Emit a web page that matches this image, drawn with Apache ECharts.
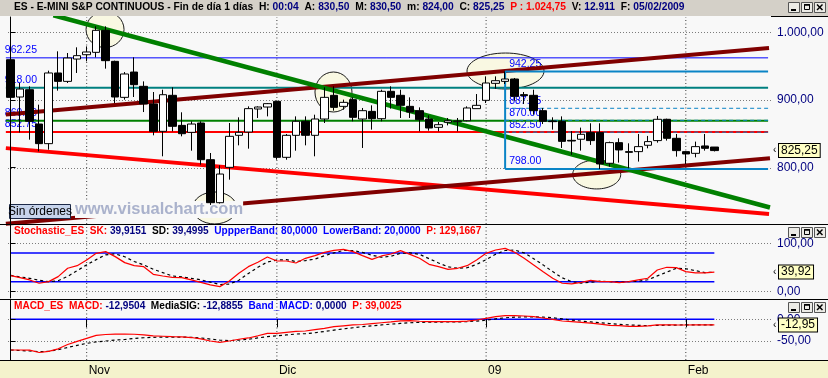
<!DOCTYPE html>
<html><head><meta charset="utf-8">
<script src="https://cdn.jsdelivr.net/npm/echarts@6/dist/echarts.min.js"></script>
<style>html,body{margin:0;padding:0;background:#f8f8f8}#c{width:828px;height:378px}</style>
</head><body><div id="c"></div><script>
// ---------- DATA ----------
const candleOpen = [959.5,904.4,915.2,864.5,835.5,939.9,927.5,960.5,966.9,970.4,
 1002.9,957.1,903.9,941.3,920.2,894.1,853.7,906.9,862.5,852.2,
 866.0,811.8,748.3,800.5,847.8,852.7,886.7,889.6,898.0,815.3,
 847.8,868.5,847.8,871.9,906.9,890.6,900.5,871.9,883.2,872.4,
 912.8,906.9,890.6,884.2,871.9,859.6,867.0,868.0,869.4,887.2,
 899.5,924.6,927.5,931.0,907.9,906.9,884.2,869.0,868.5,840.4,
 842.0,851.8,851.8,806.5,837.0,823.7,823.7,833.1,840.0,871.5,
 843.4,823.7,821.2,832.1,830.5];
const candleClose = [903.9,916.2,868.5,835.5,939.9,927.5,962.0,965.5,970.9,1002.9,
 958.1,904.4,938.4,922.6,894.1,853.7,907.8,861.1,850.2,864.5,
 811.8,748.3,790.6,846.3,852.2,887.2,889.6,894.6,815.3,847.8,
 868.5,847.8,871.9,903.9,889.1,896.5,874.4,884.2,872.4,912.8,
 903.9,892.1,882.2,870.9,858.6,863.5,869.4,869.0,888.2,892.1,
 925.1,928.5,931.0,905.4,906.4,884.2,868.5,868.0,838.9,839.4,
 849.3,840.0,805.5,837.0,826.2,822.7,831.1,838.5,871.5,843.4,
 825.2,820.3,831.1,828.6,825.25];
const candleLow = [855,852,841.4,824.1,826.6,913.8,925.1,939.9,957.1,963.0,
 946.3,895.5,900.5,904.4,882.2,847.8,816.8,853.7,846.3,825.1,
 804.4,745.0,747.0,782.3,833.0,828.1,873.4,875.8,811.8,811.8,
 825.1,833.0,816.8,866.0,884.2,885.7,868.5,829.1,856.2,868.5,
 887.2,873.4,873.4,853.7,854.7,853.7,862.5,853.7,868.5,887.2,
 895.5,916.7,923.6,899.0,894.1,878.3,864.5,856.2,829.1,819.0,
 825.2,833.6,798.0,801.5,807.5,799.1,809.0,828.6,837.0,840.0,
 816.3,805.5,815.3,825.2,824.0];
const candleHigh = [969.4,925.1,920.2,893.1,943.3,971.9,969.4,977.8,979.2,1008.8,
 1008.8,958.1,941.3,963.0,927.5,911.8,915.2,918.7,881.8,868.5,
 868.5,821.7,803.5,866.0,874.4,890.6,890.6,895.5,899.0,849.8,
 875.8,875.8,878.3,918.7,920.2,900.5,903.9,888.2,892.1,915.2,
 920.2,915.2,903.9,889.1,877.3,867.5,873.4,873.4,890.6,908.8,
 934.9,934.9,942.25,932.5,911.8,915.2,888.2,874.4,875.8,854.0,
 859.2,865.6,865.6,838.5,843.4,836.0,849.8,846.9,876.4,872.4,
 849.8,824.2,838.5,849.8,830.5];
const stochSK = [32.6,28.4,23.6,16.7,20.1,30.5,47.9,53.4,65.2,79.1,
 82.6,72.2,59.7,53.4,51.3,35.4,31.9,29.1,28.4,23.6,
 18.7,13.2,9.7,21.5,37.5,51.3,60.4,71.5,63.1,63.1,
 59.0,68.7,74.3,81.2,85.4,87.4,82.6,74.3,66.6,73.6,
 77.7,84.7,77.0,68.7,56.2,51.3,45.8,47.9,53.4,65.2,
 79.1,86.0,89.5,81.2,68.7,54.8,40.9,27.1,16.7,15.3,
 18.7,22.9,20.1,20.1,18.0,20.1,23.6,27.1,44.4,50.0,
 49.3,40.9,38.2,38.2,39.9151];
const stochSD = [33,30,27,23,20,22,31,43,55,66,
 76,78,72,62,55,46,39,32,30,27,
 24,19,14,15,23,37,50,61,65,66,
 62,64,67,74,80,85,85,81,75,71,
 73,79,80,77,68,59,51,48,49,56,
 66,77,85,86,80,68,55,41,28,20,
 17,19,21,20,19,20,21,24,32,40,
 48,47,43,39,39.4995];
const macdLine = [-70.7,-70.7,-71,-76.5,-74,-68,-58,-51,-44,-37,
 -35,-34,-34,-34.5,-36,-38,-39,-40,-40.5,-42,
 -45,-50,-53,-50,-46,-43,-38,-32.5,-32.5,-30,
 -28,-27,-24,-21,-17,-15,-13,-12,-10,-8,
 -6,-3.5,-3,-4.5,-5.4,-5.4,-5.4,-5.4,-4,-1.6,
 2,6.1,8.4,8.4,7.6,6,3,0,-3.9,-5.5,
 -7,-9,-11,-14,-14.6,-16.5,-16.5,-15,-13,-12.5,
 -13,-13.1,-13,-13,-12.9504];
const macdSignal = [-70.7,-72,-73,-74.5,-74,-70,-65,-60,-55.5,-52,
 -50,-48,-46.5,-44,-42.5,-41.5,-41,-41,-41,-41.5,
 -43,-45.5,-48,-49,-48,-46,-43,-40,-38,-36,
 -34,-33,-31,-28,-25,-22,-19.5,-17,-15,-13,
 -11,-9.5,-8,-7,-6.5,-6.5,-6,-6,-5.5,-4,
 -2,1,3.5,5,5.5,5.5,5,3.5,1,-2,
 -4,-6,-8,-10,-11.5,-13,-14,-14.5,-14,-13.5,
 -13.2,-13,-13,-12.9,-12.8855];
const tickIndex = [8, 28, 50, 71];
const tickLabels = ['Nov', 'Dic', '09', 'Feb'];
const priceTicks = [800, 900, 1000];
const stochTicks = [0, 100];
const macdTicks = [-50, 0];
const upperBand = 80, lowerBand = 20, bandMacd = 0;
const stochP = 129.1667, macdP = 39.0025;
const levelValues = [962.25, 918.00, 869.50, 852.75];
const fibValues = [942.25, 887.75, 870.00, 852.50, 798.00];
const fibStart = 52;
const trendGreen = [[4.5, 1025.2], [79.85, 741.2]];
const trendUpper = [[-0.5, 878.4], [79.75, 976.8]];
const trendLower = [[-0.5, 717.3], [79.85, 813.9]];
const trendRed = [[-0.5, 828.9], [79.75, 731.6]];
const highlightCenters = [[9.93, 1004.1], [21.46, 740.5], [33.95, 911.8], [52.04, 942.8], [61.63, 790.0]];
const headerTime = '00:04', headerP = '1.024,75', headerVolume = '12.911', headerDate = '05/02/2009';

// ---------- STYLE / LAYOUT ----------
const FONT = '"Liberation Sans", Arial, sans-serif';
const X_MIN = -0.5, X_MAX = 79.957, LEVEL_END = 79.65;
const GL = 5.85, GR = 57;
const Y_RANGE = [[716.8, 1022.6], [-14, 138.1], [-93.8, 44.5]];
const levelColors = ['#0000ff', '#008080', '#008000', '#ff0000'];
const levelWidths = [1, 2, 2, 2];
const ellipseRadii = [[19, 18], [22, 16], [18.5, 20], [38.5, 18], [24, 14.5]];
const FIB = '#0a84c6';
const DOT = '#3a3a3a';

function fmt(v, d) {
  const s = Math.abs(v).toFixed(d);
  let [a, b] = s.split('.');
  a = a.replace(/\B(?=(\d{3})+(?!\d))/g, '.');
  return (v < 0 ? '-' : '') + a + (b ? ',' + b : '');
}
const last = candleOpen.length - 1;

const chart = echarts.init(document.getElementById('c'), null, {renderer: 'canvas', width: 828, height: 378});

const grids = [
  {left: GL, right: GR, top: 17, height: 207},
  {left: GL, right: GR, top: 225, height: 73},
  {left: GL, right: GR, top: 300, height: 60}
].map(g => Object.assign(g, {containLabel: false, outerBoundsMode: 'none', show: false}));

const xAxes = [0, 1, 2].map(g => ({
  type: 'value', gridIndex: g, min: X_MIN, max: X_MAX, z: 10,
  axisLine: {show: false},
  axisTick: g === 2 ? {show: true, customValues: tickIndex, length: 8, inside: false, lineStyle: {color: '#000', width: 1}} : {show: false},
  axisLabel: g === 2 ? {show: true, customValues: tickIndex, align: 'left', margin: 5, padding: [0, 0, 0, 2], color: '#000', fontSize: 12, fontFamily: FONT,
      formatter: v => tickLabels[tickIndex.indexOf(Math.round(v))] || ''} : {show: false},
  splitLine: {show: false}
}));

function yAx(g, ticks) {
  return {
    type: 'value', gridIndex: g, position: 'right', min: Y_RANGE[g][0], max: Y_RANGE[g][1], z: 10,
    axisLine: {show: true, lineStyle: {color: '#000', width: 1}},
    axisTick: {show: true, customValues: ticks, length: 5, inside: false, lineStyle: {color: '#000'}},
    axisLabel: {show: true, customValues: ticks, margin: 6, color: '#000080', fontSize: 12, fontFamily: FONT, formatter: v => fmt(v, 2)},
    splitLine: {show: false}
  };
}
const yAxes = [yAx(0, priceTicks), yAx(1, stochTicks), yAx(2, macdTicks)];

function line(g, data, color, width, type, z) {
  return {type: 'line', xAxisIndex: g, yAxisIndex: g, data, symbol: 'none', silent: true, animation: false,
    lineStyle: {color, width, type: type || 'solid'}, z: z == null ? 2 : z};
}
const idx = candleOpen.map((_, i) => i);
// vertical dotted grid lines at the month ticks
function vGridLines(g) {
  return tickIndex.map(t => line(g, [[t, Y_RANGE[g][0]], [t, Y_RANGE[g][1]]], DOT, 1, [1, 2.5], 0.5));
}
const series = [
  ...vGridLines(0), ...vGridLines(1), ...vGridLines(2),
  // horizontal levels
  ...levelValues.map((v, k) => line(0, [[X_MIN, v], [LEVEL_END, v]], levelColors[k], levelWidths[k], 'solid', 2)),
  // fibonacci box
  line(0, [[fibStart, fibValues[0]], [LEVEL_END, fibValues[0]]], FIB, 2, 'solid', 2.2),
  line(0, [[fibStart, fibValues[4]], [LEVEL_END, fibValues[4]]], FIB, 2, 'solid', 2.2),
  line(0, [[fibStart, fibValues[0]], [fibStart, fibValues[4]]], FIB, 2, 'solid', 2.2),
  ...fibValues.slice(1, 4).map(v => line(0, [[fibStart, v], [LEVEL_END, v]], FIB, 1, [4, 3], 2.3)),
  // trend lines
  line(0, trendRed, '#ff0000', 4, 'solid', 2.1),
  line(0, trendLower, '#800000', 4, 'solid', 2.1),
  line(0, trendUpper, '#800000', 4, 'solid', 2.1),
  line(0, trendGreen, '#008000', 4.5, 'solid', 2.1),
  {type: 'candlestick', xAxisIndex: 0, yAxisIndex: 0, z: 4, barWidth: 8, animation: false, silent: true,
    data: idx.map(i => [i, candleOpen[i], candleClose[i], candleLow[i], candleHigh[i]]),
    encode: {x: 0, y: [1, 2, 3, 4]},
    itemStyle: {color: '#ffffff', color0: '#000000', borderColor: '#000000', borderColor0: '#000000', borderColorDoji: '#000000', borderWidth: 1}},
  // stochastic
  line(1, [[0, upperBand], [last, upperBand]], '#0000ff', 1.5),
  line(1, [[0, lowerBand], [last, lowerBand]], '#0000ff', 1.5),
  line(1, idx.map(i => [i, stochSD[i]]), '#000000', 1.2, [3, 3], 3),
  line(1, idx.map(i => [i, stochSK[i]]), '#ff0000', 1.2, 'solid', 3),
  // macd
  line(2, [[0, bandMacd], [last, bandMacd]], '#0000ff', 1.5),
  line(2, idx.map(i => [i, macdSignal[i]]), '#000000', 1.2, [3, 3], 3),
  line(2, idx.map(i => [i, macdLine[i]]), '#ff0000', 1.2, 'solid', 3)
];

function mkRich(fs) {
  const base = {fontSize: fs, fontFamily: FONT};
  return {
    k: Object.assign({color: '#000000'}, base),
    v: Object.assign({color: '#000080'}, base),
    r: Object.assign({color: '#ff0000'}, base),
    n: Object.assign({color: '#000080'}, base),
    b: Object.assign({color: '#0000ff'}, base)
  };
}
const headerText = `{k|ES - E-MINI S&P CONTINUOUS - Fin de día 1 días  H: }{v|${headerTime}}{k|  A: }{v|${fmt(candleOpen[last], 2)}}{k|  M: }{v|${fmt(candleHigh[last], 2)}}{k|  m: }{v|${fmt(candleLow[last], 2)}}{k|  C: }{v|${fmt(candleClose[last], 2)}}{r|  P : ${headerP}}{k|  V: }{v|${headerVolume}}{k|  F: }{v|${headerDate}}`;
const stochText = `{r|Stochastic_ES  SK: }{n|${fmt(stochSK[last], 4)}}{k|  SD: }{n|${fmt(stochSD[last], 4)}}{b|  UppperBand: ${fmt(upperBand, 4)}  LowerBand: ${fmt(lowerBand, 4)}}{r|  P: ${fmt(stochP, 4)}}`;
const macdText = `{r|MACD_ES  MACD: }{n|${fmt(macdLine[last], 4)}}{k|  MediaSIG: }{n|${fmt(macdSignal[last], 4)}}{b|  Band_MACD: }{n|${fmt(bandMacd, 4)}}{r|  P: ${fmt(macdP, 4)}}`;

chart.setOption({
  animation: false,
  backgroundColor: '#f8f8f8',
  textStyle: {fontFamily: FONT},
  title: [
    {text: headerText, left: 14, top: 2, padding: 0, z: 20, textStyle: {rich: mkRich(10.25), fontSize: 10.25}},
    {text: stochText, left: 14, top: 226, padding: 0, z: 20, textStyle: {rich: mkRich(10.1), fontSize: 10.1}},
    {text: macdText, left: 14, top: 301, padding: 0, z: 20, textStyle: {rich: mkRich(10.1), fontSize: 10.1}}
  ],
  grid: grids, xAxis: xAxes, yAxis: yAxes, series
});

// ---------- annotations placed through the chart's own scales ----------
const toPx = (g, p) => chart.convertToPixel({gridIndex: g}, p);
const G = [];
// horizontal dotted grid lines at each panel's tick values
[[0, priceTicks], [1, stochTicks], [2, macdTicks]].forEach(([g, ticks]) => {
  ticks.forEach(v => {
    const pa = toPx(g, [X_MIN, v]), pb = toPx(g, [X_MAX, v]);
    const y = Math.round(pa[1]) + 0.5;
    G.push({type: 'line', shape: {x1: Math.round(pa[0]) + 2, y1: y, x2: Math.round(pb[0]), y2: y},
      style: {stroke: '#7c7c7c', lineWidth: 1, lineDash: [1, 2]}, z: 0.5, silent: true});
  });
});
G.push({type: 'rect', shape: {x: 0, y: 0, width: 828, height: 16}, style: {fill: '#d4d0c8'}, z: 15, silent: true});
G.push({type: 'rect', shape: {x: 0, y: 360, width: 828, height: 18}, style: {fill: '#f4f3cc'}, z: 0.1, silent: true});
[224.5, 299.5, 360.5].forEach(y => G.push({type: 'line', shape: {x1: 0, y1: y, x2: 828, y2: y}, style: {stroke: '#000', lineWidth: 1}, z: 16, silent: true}));
G.push({type: 'line', shape: {x1: 771, y1: 16.5, x2: 828, y2: 16.5}, style: {stroke: '#000', lineWidth: 1}, z: 16, silent: true});
// highlight ellipses
highlightCenters.forEach((c, k) => {
  const p = toPx(0, c);
  G.push({type: 'ellipse', shape: {cx: p[0], cy: p[1], rx: ellipseRadii[k][0], ry: ellipseRadii[k][1]},
    style: {fill: '#f9f8e2', stroke: '#1a1a1a', lineWidth: 1}, z: 1, silent: true});
});
// level labels
levelValues.forEach(v => {
  const p = toPx(0, [X_MIN, v]);
  G.push({type: 'text', x: p[0] - 1, y: p[1] - 2, style: {text: v.toFixed(2), fill: '#0000ff', font: '10.5px ' + FONT, verticalAlign: 'bottom', align: 'left'}, z: 1.5, silent: true});
});
fibValues.forEach(v => {
  const p = toPx(0, [fibStart, v]);
  G.push({type: 'text', x: p[0] + 4, y: p[1] - 2, style: {text: v.toFixed(2), fill: '#0000ff', font: '10.5px ' + FONT, verticalAlign: 'bottom', align: 'left'}, z: 1.5, silent: true});
});
// watermark + button
G.push({type: 'text', x: 75, y: 201, style: {text: 'www.visualchart.com', fill: '#aab2cc', font: 'bold 16.5px ' + FONT, backgroundColor: '#f8f8f8', padding: [0, 0, 0, 0]}, z: 3, silent: true});
G.push({type: 'rect', shape: {x: 9.5, y: 204.5, width: 61, height: 14}, style: {fill: '#c7d4ec', stroke: '#1d2a48', lineWidth: 1}, z: 5, silent: true});
G.push({type: 'text', x: 40, y: 212, style: {text: 'Sin órdenes', fill: '#000', font: '12px ' + FONT, align: 'center', verticalAlign: 'middle'}, z: 6, silent: true});
// last value tags
function tag(g, v) {
  const p = toPx(g, [X_MAX, v]);
  G.push({type: 'text', x: 773, y: p[1], style: {text: '‹', fill: '#000', font: '10px ' + FONT, verticalAlign: 'middle'}, z: 17, silent: true});
  G.push({type: 'text', x: 779, y: p[1], style: {text: fmt(v, 2), fill: '#000', font: '12px ' + FONT, verticalAlign: 'middle', align: 'left',
    backgroundColor: '#ffffc4', borderColor: '#000', borderWidth: 1, padding: [1, 2, 0, 2]}, z: 17, silent: true});
}
tag(0, candleClose[last]); tag(1, stochSK[last]); tag(2, macdLine[last]);
// window buttons
function buttons(y0) {
  [0, 13, 26].forEach((dx, k) => {
    const x = 788 + dx;
    G.push({type: 'rect', shape: {x: x + 0.5, y: y0 + 0.5, width: 11, height: 10}, style: {fill: '#ecebe6', stroke: '#555', lineWidth: 1}, z: 17, silent: true});
    if (k === 0) G.push({type: 'rect', shape: {x: x + 3, y: y0 + 7, width: 5, height: 2}, style: {fill: '#000'}, z: 18, silent: true});
    if (k === 1) { G.push({type: 'rect', shape: {x: x + 3.5, y: y0 + 2.5, width: 5, height: 5}, style: {fill: 'none', stroke: '#000', lineWidth: 1}, z: 18, silent: true});
                   G.push({type: 'line', shape: {x1: x + 3, y1: y0 + 3, x2: x + 9, y2: y0 + 3}, style: {stroke: '#000', lineWidth: 1.5}, z: 18, silent: true}); }
    if (k === 2) { G.push({type: 'line', shape: {x1: x + 3, y1: y0 + 2.5, x2: x + 8.5, y2: y0 + 8}, style: {stroke: '#000', lineWidth: 1.5}, z: 18, silent: true});
                   G.push({type: 'line', shape: {x1: x + 8.5, y1: y0 + 2.5, x2: x + 3, y2: y0 + 8}, style: {stroke: '#000', lineWidth: 1.5}, z: 18, silent: true}); }
  });
}
buttons(2); buttons(227); buttons(302);
chart.setOption({graphic: G});
</script></body></html>
